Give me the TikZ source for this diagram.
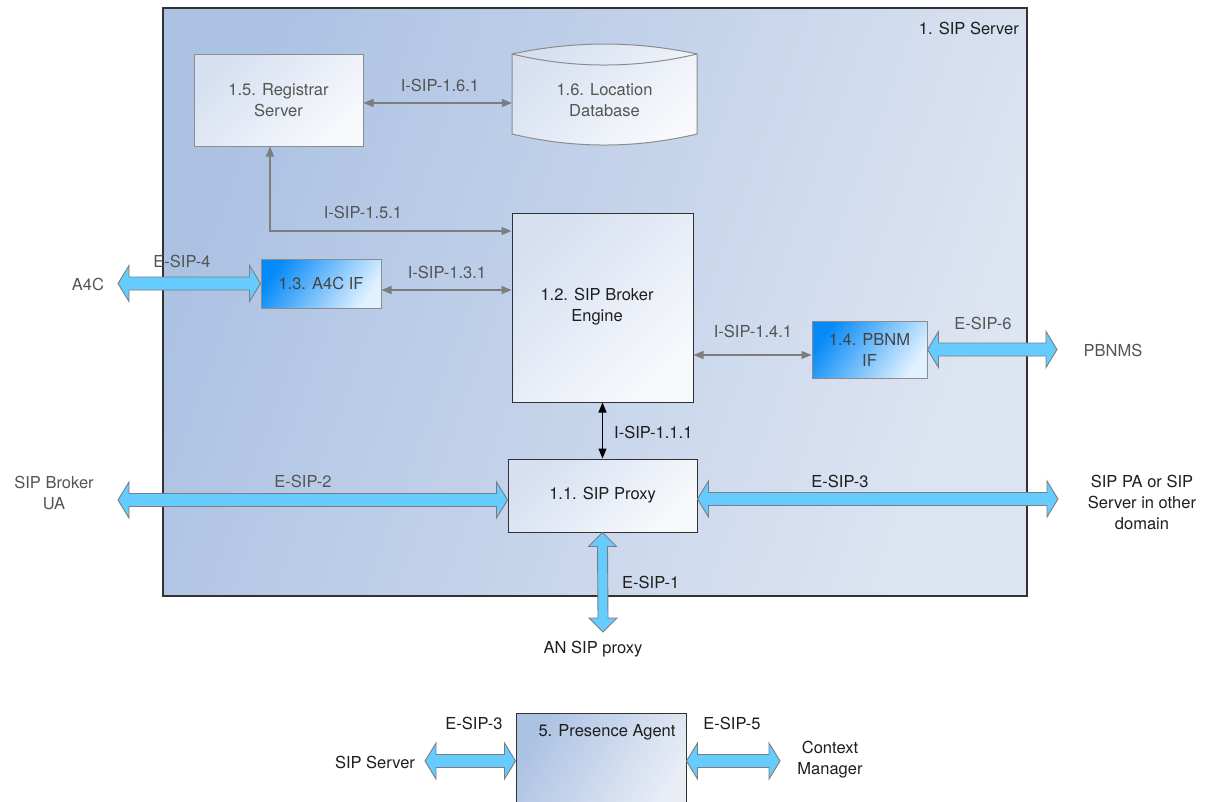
\documentclass[tikz,border=0pt]{standalone}
\usepackage{fontspec}
\setmainfont{TeX Gyre Heros}
\usetikzlibrary{arrows.meta,calc}
\definecolor{fatblue}{RGB}{102,204,255}
\definecolor{fatedge}{RGB}{125,125,125}
\definecolor{garrow}{RGB}{125,125,125}
\definecolor{txtgray}{RGB}{85,85,85}
\definecolor{txtdark}{RGB}{30,30,30}
\definecolor{bgA}{RGB}{172,194,227}
\definecolor{bgB}{RGB}{222,229,242}
\definecolor{boxA}{RGB}{214,224,241}
\definecolor{boxB}{RGB}{248,249,252}
\definecolor{blueA}{RGB}{5,138,248}
\definecolor{blueM}{RGB}{60,165,250}
\definecolor{blueB}{RGB}{225,241,255}
\definecolor{edgegray}{RGB}{140,140,140}
\definecolor{edgedark}{RGB}{50,50,50}

\newcommand\fatH[2]{%
  \filldraw[fat] (#1) -- ++(11,-18) -- ++(0,11.5) -- ($(#2)+(-11,-6.5)$) -- ++(0,-11.5) -- (#2)
   -- ++(-11,18) -- ++(0,-11.5) -- ($(#1)+(11,6.5)$) -- ++(0,11.5) -- cycle;}
\newcommand\fatV[2]{%
  \filldraw[fat] (#1) -- ++(-14,14) -- ++(9,0) -- ($(#2)+(-5,-14)$) -- ++(-9,0) -- (#2)
   -- ++(14,-14) -- ++(-9,0) -- ($(#1)+(5,14)$) -- ++(9,0) -- cycle;}

\tikzset{
  every node/.style={font=\fontsize{16.5}{21}\selectfont, align=center, inner sep=0pt},
  fat/.style={fill=fatblue, draw=fatedge, line width=0.9pt, line join=miter},
  lightbox/.style={draw=edgegray, line width=1pt, left color=boxA, right color=boxB, shading angle=45, text=txtgray},
  darkbox/.style={draw=edgedark, line width=1pt, left color=boxA, right color=boxB, shading angle=45, text=txtdark},
  bluebox/.style={draw=edgegray, line width=1pt, left color=blueA, middle color=blueM, right color=blueB, shading angle=55, text=txtgray!80!black},
  glink/.style={draw=garrow, line width=1.1pt, {Triangle[length=10pt,width=8pt]}-{Triangle[length=10pt,width=8pt]}},
  blink/.style={draw=black, line width=1pt, {Triangle[length=10pt,width=8pt]}-{Triangle[length=10pt,width=8pt]}},
  lab/.style={text=txtgray},
  labd/.style={text=txtdark},
}

\begin{document}
\begin{tikzpicture}[x=1pt,y=-1pt]
\useasboundingbox (0,0) rectangle (1221,801);
\fill[white] (0,0) rectangle (1221,801);

% main SIP server box
\node[draw=edgedark, line width=1.3pt, left color=bgA, right color=bgB, shading angle=70,
      minimum width=864pt, minimum height=588pt] (srv) at (595,302) {};
\node[labd, anchor=east] (srvt) at (1019,28) {1. SIP Server};

% components
\node[lightbox, minimum width=169pt, minimum height=92pt] (reg) at (278.5,100) {1.5. Registrar\\Server};
\path[draw=edgegray, line width=1pt, left color=boxA, right color=boxB, shading angle=45]
  (512,54) .. controls (574,40.7) and (635,40.7) .. (697,54) -- (697,134)
  .. controls (635,148.7) and (574,148.7) .. (512,134) -- cycle;
\draw[edgegray, line width=1pt] (512,54) .. controls (574,68.7) and (635,68.7) .. (697,54);
\node[text=txtgray, minimum width=185pt, minimum height=90pt] (db) at (604.5,100) {1.6. Location\\Database};

\node[darkbox, minimum width=181pt, minimum height=189pt] (eng) at (602.5,307.5) {};
\node[labd] (engt) at (597,307) {1.2. SIP Broker\\Engine};
\node[bluebox, minimum width=120pt, minimum height=49pt] (a4cif) at (321,283.5) {1.3. A4C IF};
\node[bluebox, minimum width=115pt, minimum height=57pt] (pbnm) at (869.5,349.5) {1.4. PBNM\\IF};
\node[darkbox, minimum width=189pt, minimum height=73pt] (proxy) at (602.5,495.5) {1.1. SIP Proxy};

% outside entities
\node[lab] (a4c) at (88,284) {A4C};
\coordinate (a4ctip) at (118,283.5);
\node[lab] (pbnms) at (1113,350) {PBNMS};
\coordinate (pbtip) at (1057,349.5);
\node[lab] (sbua) at (54,493) {SIP Broker\\UA};
\coordinate (sbtip) at (118,500);
\node[labd] (other) at (1142,502) {SIP PA or SIP\\Server in other\\domain};
\coordinate (othtip) at (1058,499);
\node[labd] (an) at (593,649) {AN SIP proxy};
\coordinate (antip) at (603,632);

% internal links
\draw[glink] ([yshift=-3pt]reg.east) -- ([yshift=-3pt]reg.east -| db.west);
\node[lab] (l161) at (440,85) {I-SIP-1.6.1};
\coordinate (c151) at (270,231);
\draw[glink] (reg.south -| c151) |- (eng.west |- c151);
\node[lab] (l151) at (363,212) {I-SIP-1.5.1};
\draw[glink] ([yshift=-6.5pt]a4cif.east) -- ([yshift=-6.5pt]a4cif.east -| eng.west);
\node[lab] (l131) at (447,272) {I-SIP-1.3.1};
\draw[glink] ([yshift=-5.5pt]pbnm.west -| eng.east) -- ([yshift=-5.5pt]pbnm.west);
\node[lab] (l141) at (753,331) {I-SIP-1.4.1};
\draw[blink] (eng.south) -- (proxy.north);
\node[labd, anchor=west] (l111) at (614,432) {I-SIP-1.1.1};

% external fat links
\fatH{a4ctip}{a4cif.west}
\node[lab] (e4) at (182,261) {E-SIP-4};
\fatH{pbnm.east}{pbtip}
\node[lab] (e6) at (983,323) {E-SIP-6};
\fatH{sbtip}{proxy.west |- sbtip}
\node[lab] (e2) at (303,481) {E-SIP-2};
\fatH{proxy.east |- othtip}{othtip}
\node[labd] (e3) at (840,481) {E-SIP-3};
\fatV{proxy.south}{antip}
\node[labd, anchor=west] (e1) at (622,582) {E-SIP-1};

% presence agent
\node[draw=edgedark, line width=1pt, left color=bgA, right color=bgB!70!white, shading angle=60,
      minimum width=170pt, minimum height=96pt] (pres) at (601,761) {};
\node[labd] (prest) at (607,732) {5. Presence Agent};
\node[labd] (ss) at (375,762) {SIP Server};
\coordinate (sstip) at (425,761);
\node[labd] (cm) at (830,760) {Context\\Manager};
\coordinate (cmtip) at (780,761);
\fatH{sstip}{pres.west}
\node[labd] (pe3) at (474,723) {E-SIP-3};
\fatH{pres.east}{cmtip}
\node[labd] (pe5) at (732,723) {E-SIP-5};
\end{tikzpicture}
\end{document}
